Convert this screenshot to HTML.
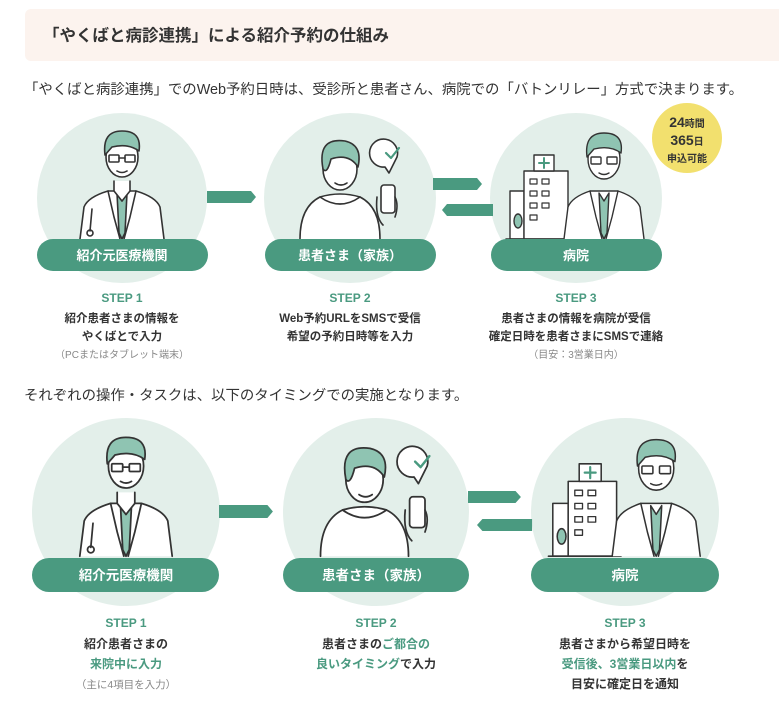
<!DOCTYPE html>
<html><head><meta charset="utf-8"><style>
html,body{margin:0;padding:0;background:#fff;}
svg{display:block;font-family:"Liberation Sans","Noto Sans CJK JP",sans-serif;}
</style></head><body>
<svg width="779" height="710" viewBox="0 0 779 710">
<defs>
<g id="doc" fill="none" stroke="#333" stroke-width="1.6" stroke-linecap="round" stroke-linejoin="round">
  <path d="M-42 42 L-38 10 Q-34 0 -14 -6 L14 -6 Q34 0 38 10 L42 42" fill="#fff"/>
  <path d="M-14 -6 L-8 20 L-2 42 M14 -6 L8 20 L2 42"/>
  <path d="M-5 -4 L0 4 L5 -4 L3 36 L0 42 L-3 36 Z" fill="#8fc4b2"/>
  <path d="M-8 -16 L-8 -6 L0 4 L8 -6 L8 -16" fill="#fff"/>
  <ellipse cx="0" cy="-40" rx="16" ry="20" fill="#fff"/>
  <path d="M-17 -42 Q-20 -66 0 -66 Q20 -66 17 -46 Q6 -54 -10 -50 Z" fill="#8fc4b2"/>
  <rect x="-13" y="-42" width="10" height="7" rx="1"/><rect x="3" y="-42" width="10" height="7" rx="1"/>
  <path d="M-3 -39 L3 -39 M-5 -26 Q0 -23 5 -26"/>
  <path d="M-30 12 L-32 34" /><circle cx="-32" cy="36" r="3"/>
</g>
<g id="pat" fill="none" stroke="#333" stroke-width="1.6" stroke-linecap="round" stroke-linejoin="round">
  <path d="M-55 42 Q-55 10 -35 0 Q-15 -6 5 0 Q25 10 25 42" fill="#fff"/>
  <path d="M-35 0 Q-15 14 5 0"/>
  <ellipse cx="-15" cy="-28" rx="17" ry="21" fill="#fff"/>
  <path d="M-32 -28 Q-38 -60 -10 -56 Q8 -52 3 -30 Q-6 -44 -24 -38 Q-28 -22 -32 -28 Z" fill="#8fc4b2"/>
  <path d="M-20 -14 Q-14 -10 -8 -14"/>
  <rect x="26" y="-12" width="14" height="28" rx="3" fill="#fff"/>
  <path d="M22 0 Q20 20 28 28 M40 0 Q44 8 40 20"/>
  <path d="M42 -40 A14 14 0 1 0 30 -30 L34 -24 Z" fill="#fff"/>
  <path d="M31 -44 L36 -39 L44 -49" stroke="#4a9a80" stroke-width="2.2"/>
</g>
<g id="hos" fill="none" stroke="#333" stroke-width="1.4" stroke-linecap="round" stroke-linejoin="round">
  <rect x="-72" y="-6" width="14" height="48" fill="#fff"/>
  <rect x="-58" y="-26" width="44" height="68" fill="#fff"/>
  <rect x="-48" y="-42" width="20" height="16" fill="#fff"/>
  <path d="M-38 -39 L-38 -29 M-43 -34 L-33 -34" stroke="#4a9a80" stroke-width="2"/>
  <g stroke-width="1.2"><rect x="-52" y="-18" width="7" height="5"/><rect x="-40" y="-18" width="7" height="5"/><rect x="-52" y="-6" width="7" height="5"/><rect x="-40" y="-6" width="7" height="5"/><rect x="-52" y="6" width="7" height="5"/><rect x="-40" y="6" width="7" height="5"/><rect x="-52" y="18" width="7" height="5"/></g>
  <ellipse cx="-64" cy="24" rx="4" ry="7" fill="#8fc4b2"/>
  <path d="M-76 42 L-10 42"/>
  <g transform="translate(22,0)">
  <path d="M-40 42 L-36 10 Q-32 0 -14 -6 L14 -6 Q32 0 36 10 L40 42" fill="#fff"/>
  <path d="M-14 -6 L-8 20 L-2 42 M14 -6 L8 20 L2 42"/>
  <path d="M-5 -4 L0 4 L5 -4 L3 36 L0 42 L-3 36 Z" fill="#8fc4b2"/>
  <ellipse cx="0" cy="-38" rx="16" ry="20" fill="#fff"/>
  <path d="M-17 -40 Q-20 -64 0 -64 Q20 -64 17 -44 Q6 -52 -10 -48 Z" fill="#8fc4b2"/>
  <rect x="-13" y="-40" width="10" height="7" rx="1"/><rect x="3" y="-40" width="10" height="7" rx="1"/>
  <path d="M-5 -24 Q0 -21 5 -24"/>
  </g>
</g>
<path id="ar" d="M0 0 H44 L49 6 L44 12 H0 Z" fill="#4a9a80"/>
<path id="al" d="M5 0 H51 V12 H5 L0 6 Z" fill="#4a9a80"/>
</defs>

<rect x="25" y="9" width="760" height="52" rx="6" fill="#fcf3ee"/>
<text x="43" y="41" font-size="16.5" font-weight="bold" fill="#333">「やくばと病診連携」による紹介予約の仕組み</text>
<text x="24" y="94" font-size="14.4" fill="#333">「やくばと病診連携」でのWeb予約日時は、受診所と患者さん、病院での「バトンリレー」方式で決まります。</text>

<!-- Row 1 -->
<g>
<ellipse cx="122" cy="198" rx="85" ry="85" fill="#e3efea"/>
<ellipse cx="350" cy="198" rx="86" ry="85" fill="#e3efea"/>
<ellipse cx="576" cy="198" rx="86" ry="85" fill="#e3efea"/>
<use href="#doc" transform="translate(122,197)"/>
<use href="#pat" transform="translate(355,197)"/>
<use href="#hos" transform="translate(582,197)"/>
<rect x="37" y="239" width="171" height="32" rx="16" fill="#4a9a80"/>
<rect x="265" y="239" width="171" height="32" rx="16" fill="#4a9a80"/>
<rect x="491" y="239" width="171" height="32" rx="16" fill="#4a9a80"/>
<g font-size="13" font-weight="bold" fill="#fff" text-anchor="middle">
<text x="122" y="260">紹介元医療機関</text><text x="350" y="260">患者さま（家族）</text><text x="576" y="260">病院</text></g>
<use href="#ar" x="207" y="191"/>
<use href="#ar" x="433" y="178"/>
<use href="#al" x="442" y="204"/>
<circle cx="687" cy="138" r="35" fill="#f2e06e"/>
<g font-weight="bold" fill="#333" text-anchor="middle"><text x="687" y="127" font-size="14">24<tspan font-size="10">時間</tspan></text><text x="687" y="145" font-size="14">365<tspan font-size="10">日</tspan></text><text x="687" y="162" font-size="10">申込可能</text></g>
<g text-anchor="middle" font-weight="bold" font-size="11.5" fill="#333">
<text x="122" y="302" fill="#4a9a80" font-size="12">STEP 1</text>
<text x="122" y="322">紹介患者さまの情報を</text><text x="122" y="340">やくばとで入力</text>
<text x="122" y="358" font-weight="normal" font-size="10" fill="#888">（PCまたはタブレット端末）</text>
<text x="350" y="302" fill="#4a9a80" font-size="12">STEP 2</text>
<text x="350" y="322">Web予約URLをSMSで受信</text><text x="350" y="340">希望の予約日時等を入力</text>
<text x="576" y="302" fill="#4a9a80" font-size="12">STEP 3</text>
<text x="576" y="322">患者さまの情報を病院が受信</text><text x="576" y="340">確定日時を患者さまにSMSで連絡</text>
<text x="576" y="358" font-weight="normal" font-size="10" fill="#888">（目安：3営業日内）</text>
</g>
</g>

<text x="24" y="400" font-size="14.4" fill="#333">それぞれの操作・タスクは、以下のタイミングでの実施となります。</text>

<!-- Row 2 -->
<g>
<ellipse cx="126" cy="512" rx="94" ry="94" fill="#e3efea"/>
<ellipse cx="376" cy="512" rx="93" ry="94" fill="#e3efea"/>
<ellipse cx="625" cy="512" rx="94" ry="94" fill="#e3efea"/>
<use href="#doc" transform="translate(126,510) scale(1.1)"/>
<use href="#pat" transform="translate(381,510) scale(1.1)"/>
<use href="#hos" transform="translate(632,510) scale(1.1)"/>
<rect x="32" y="558" width="187" height="34" rx="17" fill="#4a9a80"/>
<rect x="283" y="558" width="186" height="34" rx="17" fill="#4a9a80"/>
<rect x="531" y="558" width="188" height="34" rx="17" fill="#4a9a80"/>
<g font-size="13.5" font-weight="bold" fill="#fff" text-anchor="middle">
<text x="126" y="580">紹介元医療機関</text><text x="376" y="580">患者さま（家族）</text><text x="625" y="580">病院</text></g>
<use href="#ar" transform="translate(219,505) scale(1.1,1.08)"/>
<use href="#ar" transform="translate(468,491) scale(1.08,1.0)"/>
<use href="#al" transform="translate(477,519) scale(1.08,1.0)"/>
<g text-anchor="middle" font-weight="bold" font-size="12" fill="#333">
<text x="126" y="627" fill="#4a9a80">STEP 1</text>
<text x="126" y="648">紹介患者さまの</text><text x="126" y="668" fill="#4a9a80">来院中に入力</text>
<text x="126" y="688" font-weight="normal" font-size="10.5" fill="#888">（主に4項目を入力）</text>
<text x="376" y="627" fill="#4a9a80">STEP 2</text>
<text x="376" y="648">患者さまの<tspan fill="#4a9a80">ご都合の</tspan></text><text x="376" y="668"><tspan fill="#4a9a80">良いタイミング</tspan>で入力</text>
<text x="625" y="627" fill="#4a9a80">STEP 3</text>
<text x="625" y="648">患者さまから希望日時を</text><text x="625" y="668"><tspan fill="#4a9a80">受信後、3営業日以内</tspan>を</text><text x="625" y="688">目安に確定日を通知</text>
</g>
</g>
</svg>
</body></html>
